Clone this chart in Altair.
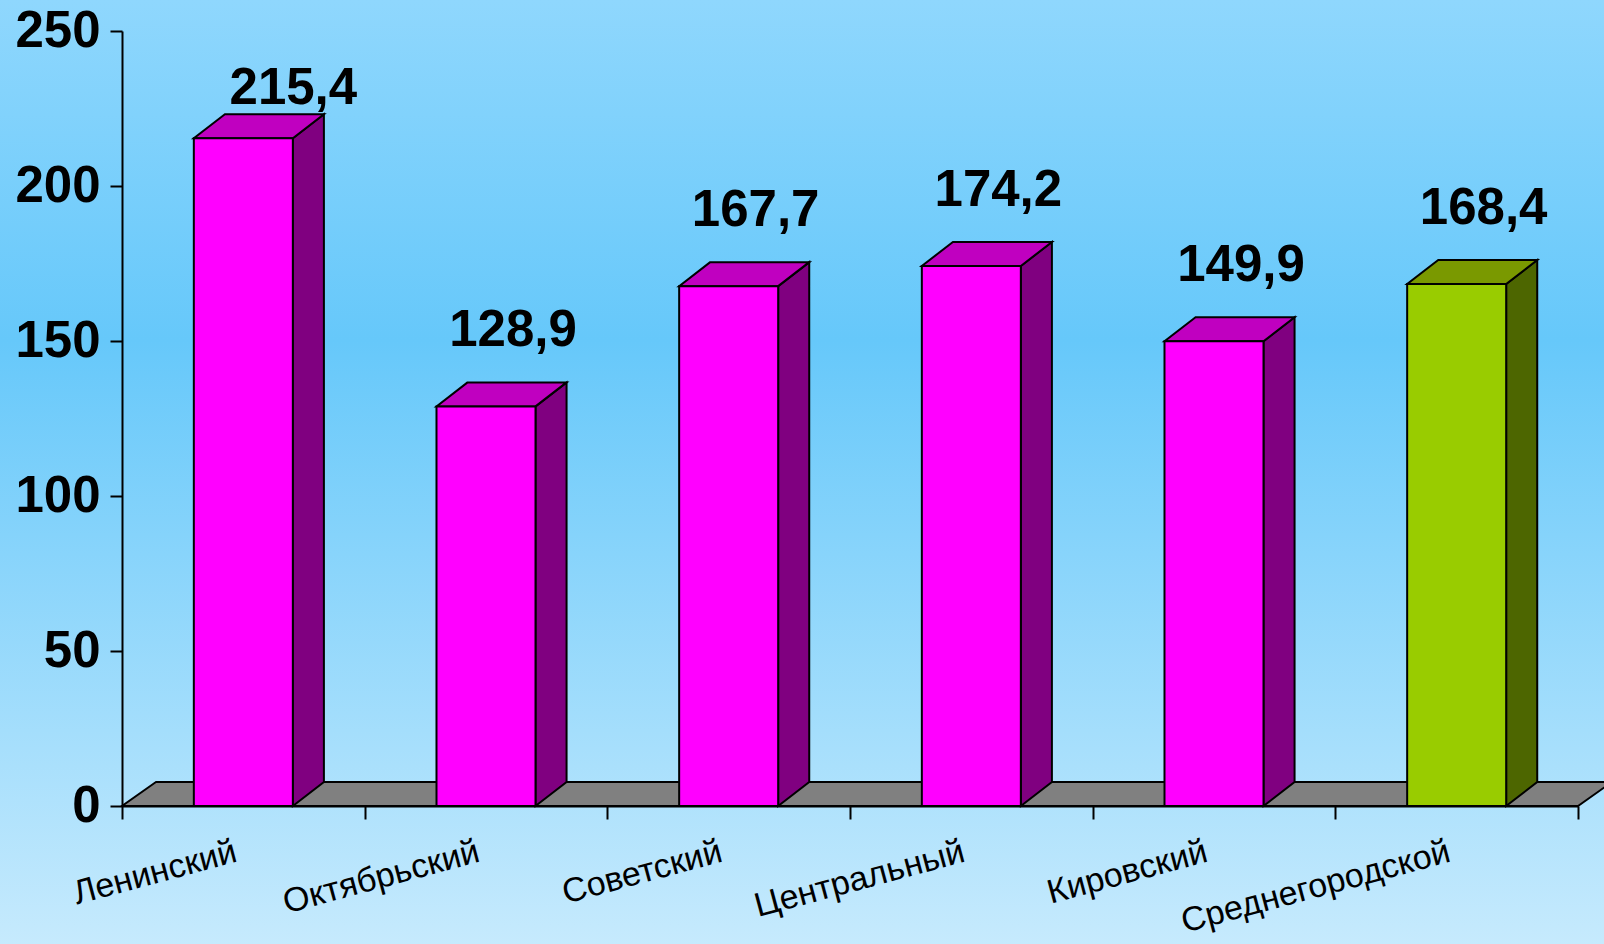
import altair as alt
import pandas as pd

categories = ["Ленинский", "Октябрьский", "Советский", "Центральный", "Кировский", "Среднегородской"]
values = [215.4, 128.9, 167.7, 174.2, 149.9, 168.4]
groups = ["district", "district", "district", "district", "district", "city"]
y_ticks = [0, 50, 100, 150, 200, 250]

W, H = 1456, 775
PAD_L, PAD_T = 122, 31
HALF = 0.204      # half bar width in band units
D = 0.128         # depth dx (band units)
DY = 7.74         # depth dy (value units)
FD = 0.14         # floor depth dx

base = pd.DataFrame({"cat": categories, "value": values, "grp": groups})
base["idx"] = range(len(categories))
base["center"] = base["idx"] + 0.5
base["xl"] = base["center"] - HALF
base["xr"] = base["center"] + HALF
base["label"] = [f"{v:.1f}".replace(".", ",") for v in values]

side_rows, top_rows = [], []
for r in base.itertuples():
    side_rows.append({"cat": r.cat, "grp": r.grp, "x": r.xr, "y": r.value, "y2": 0.0})
    side_rows.append({"cat": r.cat, "grp": r.grp, "x": r.xr + D, "y": r.value + DY, "y2": DY})
    top_rows.append({"cat": r.cat, "grp": r.grp, "y": r.value, "x": r.xl, "x2": r.xr})
    top_rows.append({"cat": r.cat, "grp": r.grp, "y": r.value + DY, "x": r.xl + D, "x2": r.xr + D})
side = pd.DataFrame(side_rows)
top = pd.DataFrame(top_rows)
n = len(categories)
floor = pd.DataFrame({"y": [0.0, DY], "x": [0.0, FD], "x2": [float(n), n + FD]})

xs = alt.Scale(domain=[0, n], nice=False, zero=False)
ys = alt.Scale(domain=[0, 250], nice=False)

PINK, PINK_SIDE, PINK_TOP = "#ff00ff", "#800080", "#c000c0"
GREEN, GREEN_SIDE, GREEN_TOP = "#99cc00", "#4d6600", "#7a9900"
FONT = "Liberation Sans"

def col(green, pink):
    return alt.condition(alt.datum.grp == "city", alt.value(green), alt.value(pink))

bg = alt.Chart(pd.DataFrame({"a": [0]})).mark_rect(
    color=alt.LinearGradient(
        gradient="linear",
        stops=[alt.GradientStop(color="#8fd7fd", offset=0),
               alt.GradientStop(color="#66c8fa", offset=0.36),
               alt.GradientStop(color="#c6eafd", offset=1)],
        x1=0, x2=0, y1=0, y2=1),
).encode(x=alt.value(-PAD_L), x2=alt.value(1604 - PAD_L),
         y=alt.value(-PAD_T), y2=alt.value(944 - PAD_T))

floor_l = alt.Chart(floor).mark_area(orient="horizontal", color="#808080",
                                      stroke="black", strokeWidth=2).encode(
    y=alt.Y("y:Q", scale=ys), x=alt.X("x:Q", scale=xs), x2="x2:Q")

side_l = alt.Chart(side).mark_area(stroke="black", strokeWidth=2).encode(
    x=alt.X("x:Q", scale=xs), y=alt.Y("y:Q", scale=ys), y2="y2:Q",
    detail="cat:N", color=col(GREEN_SIDE, PINK_SIDE))

top_l = alt.Chart(top).mark_area(orient="horizontal", stroke="black", strokeWidth=2).encode(
    y=alt.Y("y:Q", scale=ys), x=alt.X("x:Q", scale=xs), x2="x2:Q",
    detail="cat:N", color=col(GREEN_TOP, PINK_TOP))

front_l = alt.Chart(base).mark_bar(stroke="black", strokeWidth=2).encode(
    x=alt.X("xl:Q", scale=xs,
            axis=alt.Axis(values=list(range(n + 1)), labels=False, title=None,
                          tickSize=13, tickWidth=2, tickColor="black",
                          domainColor="black", domainWidth=2, grid=False, zindex=1)),
    x2="xr:Q",
    y=alt.Y("value:Q", scale=ys,
            axis=alt.Axis(values=y_ticks, title=None, tickSize=12, tickWidth=2,
                          tickColor="black", domainColor="black", domainWidth=2,
                          grid=False, labelFont=FONT, labelFontSize=51,
                          labelFontWeight="bold", labelColor="black",
                          labelPadding=10, zindex=1)),
    y2=alt.datum(0),
    color=col(GREEN, PINK))

lab_main = alt.Chart(base).transform_filter(alt.datum.idx > 0).mark_text(
    font=FONT, fontSize=51, fontWeight="bold", color="black",
    align="center", baseline="middle", dx=27, dy=-75).encode(
    x=alt.X("center:Q", scale=xs), y=alt.Y("value:Q", scale=ys), text="label:N")

lab_first = alt.Chart(base).transform_filter(alt.datum.idx == 0).mark_text(
    font=FONT, fontSize=51, fontWeight="bold", color="black",
    align="center", baseline="middle", dx=50, dy=-49).encode(
    x=alt.X("center:Q", scale=xs), y=alt.Y("value:Q", scale=ys), text="label:N")

cat_l = alt.Chart(base).mark_text(
    font=FONT, fontSize=34, color="black", align="right", baseline="top",
    angle=345, dx=-12).encode(
    x=alt.X("center:Q", scale=xs), y=alt.value(H + 26), text="cat:N")

chart = alt.layer(bg, floor_l, side_l, top_l, front_l, lab_main, lab_first, cat_l).properties(
    width=W, height=H,
    autosize=alt.AutoSizeParams(type="none"),
    padding={"left": PAD_L, "top": PAD_T, "right": 1604 - PAD_L - W, "bottom": 944 - PAD_T - H},
    background="#a0dcfc",
).configure_view(stroke=None)

chart.save("out.html", embed_options={"renderer": "svg", "actions": False})
